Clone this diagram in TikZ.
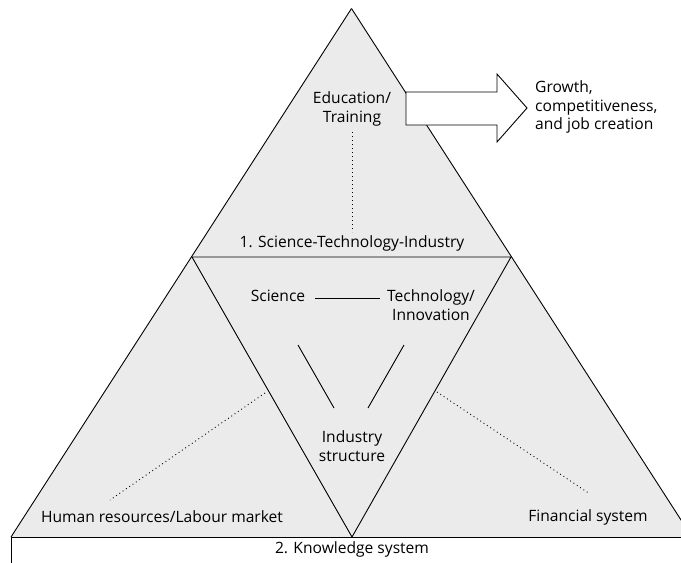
\documentclass[tikz,border=0pt]{standalone}
\usepackage{fontspec}
\setmainfont{Open Sans}
\definecolor{pyrgray}{RGB}{235,235,235}
\tikzset{
  edge/.style={line width=0.9pt, line join=miter},
  dotline/.style={line width=0.9pt, dash pattern=on 0.9pt off 3.1pt},
  lbl/.style={align=center, inner sep=1pt}
}

\begin{document}
\begin{tikzpicture}[x=1pt,y=-1pt, font=\fontsize{15.6}{18.3}\selectfont]
    \useasboundingbox (0,0) rectangle (681,563);
    \clip (0,0) rectangle (681,563);
    % outer triangle and knowledge system box
    \fill[pyrgray] (351.5,8.5)-- (11,537)-- (692,537)--cycle;
    \draw[edge] (11,580)-- (11,537)-- (700,537);
    \draw[edge] (351.5,8.5)-- (11,537);
    \draw[edge] (351.5,8.5)-- (692,537);
    % inner triangle
    \draw[edge] (192,257)-- (511,257)-- (352,537)--cycle;
    % arrow to the outcomes
    \draw[edge, fill=white] (406,92)-- (497,92)-- (497,74)-- (527,108)-- (497,142)-- (497,125)-- (406,125)--cycle;
    \node[lbl] (edu) at (352,109) {Education/\\Training};
    \node[lbl] (sti) at (352,243) {1. Science-Technology-Industry};
    \node[lbl] (sci) at (278,296) {Science};
    \node[lbl] (tech) at (431,305) {Technology/\\Innovation};
    \node[lbl] (ind) at (352,446) {Industry\\structure};
    \node[lbl] (hr) at (162,517) {Human resources/Labour market};
    \node[lbl] (fin) at (588,517) {Financial system};
    \node[lbl] (ks) at (352,549) {2. Knowledge system};
    \node[lbl, align=left, anchor=west] (out) at (534,107) {Growth,\\competitiveness,\\and job creation};
    % links
    \coordinate (edu-b) at (352,132);
    \coordinate (sti-t) at (352,232);
    \coordinate (sci-e) at (315,298);
    \coordinate (tech-w) at (380,298);
    \coordinate (ind-l) at (298,345);
    \coordinate (ind-lb) at (334,408);
    \coordinate (ind-r) at (404,345);
    \coordinate (ind-rb) at (368,408);
    \coordinate (hr-t) at (265,393);
    \coordinate (hr-b) at (110,500);
    \coordinate (fin-t) at (437,392);
    \coordinate (fin-b) at (590,494);
    \draw[dotline] (edu-b)-- (sti-t);
    \draw[edge] (sci-e)-- (tech-w);
    \draw[edge] (ind-l)-- (ind-lb);
    \draw[edge] (ind-r)-- (ind-rb);
    \draw[dotline] (hr-t)-- (hr-b);
    \draw[dotline] (fin-t)-- (fin-b);
\end{tikzpicture}
\end{document}
